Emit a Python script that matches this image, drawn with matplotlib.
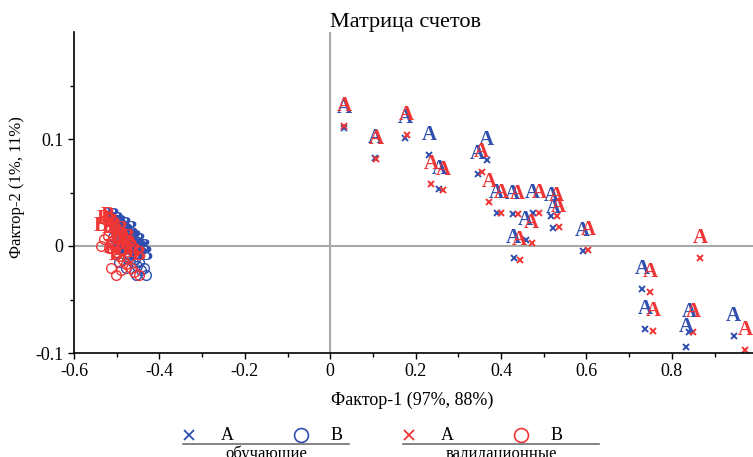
import matplotlib
matplotlib.use("Agg")
import matplotlib.pyplot as plt
from matplotlib.lines import Line2D

plt.rcParams['font.family'] = ['Liberation Serif', 'DejaVu Serif']

BLUE = "#2f4fb0"
RED = "#f03535"
GRAY = "#a8a8a8"

# class A, training set (blue)
a_train_x = [0.033, 0.105, 0.175, 0.232, 0.255, 0.366, 0.345, 0.390, 0.427, 0.474,
             0.518, 0.522, 0.458, 0.430, 0.591, 0.730, 0.738, 0.840, 0.833, 0.945]
a_train_y = [0.110, 0.082, 0.101, 0.085, 0.053, 0.080, 0.067, 0.031, 0.030, 0.031,
             0.028, 0.017, 0.006, -0.011, -0.005, -0.040, -0.078, -0.080, -0.094, -0.084]

# class A, validation set (red)
a_valid_x = [0.033, 0.107, 0.179, 0.236, 0.265, 0.355, 0.372, 0.401, 0.439, 0.490,
             0.530, 0.535, 0.472, 0.444, 0.604, 0.867, 0.749, 0.756, 0.850, 0.971]
a_valid_y = [0.112, 0.081, 0.104, 0.058, 0.052, 0.069, 0.041, 0.031, 0.030, 0.031,
             0.028, 0.018, 0.003, -0.013, -0.004, -0.011, -0.043, -0.079, -0.080, -0.097]

# class B, training set (blue)
b_train_x = [-0.509, -0.500, -0.493, -0.488, -0.481, -0.476, -0.472, -0.467, -0.462, -0.457,
             -0.453, -0.448, -0.443, -0.436, -0.432, -0.479, -0.495, -0.455]
b_train_y = [0.008, 0.005, 0.002, -0.003, 0.0, -0.007, -0.010, -0.004, -0.015, -0.012,
             -0.019, -0.015, -0.022, -0.021, -0.027, -0.021, -0.015, -0.027]

# class B, validation set (red)
b_valid_x = [-0.530, -0.521, -0.514, -0.507, -0.519, -0.502, -0.495, -0.491, -0.486, -0.479,
             -0.474, -0.467, -0.460, -0.448, -0.502, -0.514, -0.491, -0.537]
b_valid_y = [0.007, 0.009, 0.004, 0.0, -0.002, -0.006, -0.009, -0.004, -0.013, -0.017,
             -0.011, -0.021, -0.024, -0.027, -0.027, -0.021, -0.022, 0.0]

x_ticks = [-0.6, -0.4, -0.2, 0, 0.2, 0.4, 0.6, 0.8]
x_ticklabels = ["-0.6", "-0.4", "-0.2", "0", "0.2", "0.4", "0.6", "0.8"]
y_ticks = [-0.1, 0, 0.1]
y_ticklabels = ["-0.1", "0", "0.1"]

fig = plt.figure(figsize=(7.53, 4.57), dpi=100)
ax = fig.add_axes([74 / 753, 1 - 353 / 457, 1 - 74 / 753, 321 / 457])

ax.axhline(0, color=GRAY, lw=1.5, zorder=0)
ax.axvline(0, color=GRAY, lw=1.5, zorder=0)


def draw_group(xs, ys, marker, color, label):
    if marker == "x":
        ax.plot(xs, ys, ls="none", marker="x", ms=4.5, mew=1.4, color=color)
    else:
        ax.plot(xs, ys, ls="none", marker="o", ms=7, mew=1.0, mfc="none", mec=color)
    for x, y in zip(xs, ys):
        ax.annotate(label, (x, y), xytext=(0, 20), textcoords="offset pixels",
                    ha="center", va="center", color=color, fontsize=15, fontweight="bold",
                    annotation_clip=False)


draw_group(a_train_x, a_train_y, "x", BLUE, "A")
draw_group(a_valid_x, a_valid_y, "x", RED, "A")
draw_group(b_train_x, b_train_y, "o", BLUE, "B")
draw_group(b_valid_x, b_valid_y, "o", RED, "B")

ax.set_xlim(-0.6, 0.99)
ax.set_ylim(-0.1, 0.2)
ax.set_xticks(x_ticks)
ax.set_xticklabels(x_ticklabels)
ax.set_xticks([-0.5, -0.3, -0.1, 0.1, 0.3, 0.5, 0.7, 0.9], minor=True)
ax.set_yticks(y_ticks)
ax.set_yticklabels(y_ticklabels)
ax.set_yticks([-0.05, 0.05, 0.15], minor=True)
ax.tick_params(which="both", direction="out", length=4, width=1.0, labelsize=13)
ax.tick_params(which="minor", length=3)
for side in ["top", "right"]:
    ax.spines[side].set_visible(False)
for side in ["left", "bottom"]:
    ax.spines[side].set_linewidth(1.2)

ax.set_xlabel("Фактор-1 (97%, 88%)", fontsize=13)
ax.xaxis.set_label_coords(0.498, -0.121)
ax.set_ylabel("Фактор-2 (1%, 11%)", fontsize=12)
ax.yaxis.set_label_coords(-0.072, 0.517)

fig.text(405.5 / 753, 1 - 22 / 457, "Матрица счетов", ha="center", va="center", fontsize=16)

# legend below the plot
W, H = 753, 457


def legend_group(x0, x1, color, title):
    ly = 1 - 435 / H
    fig.add_artist(Line2D([(x0 + 6) / W], [ly], marker="x", ms=6.5, mew=1.3, color=color, ls="none"))
    fig.text((x0 + 44) / W, ly, "A", ha="center", va="center", fontsize=13)
    fig.add_artist(Line2D([(x0 + 118) / W], [ly], marker="o", ms=10, mew=1.2, mfc="none",
                          mec=color, ls="none"))
    fig.text((x0 + 154) / W, ly, "B", ha="center", va="center", fontsize=13)
    fig.add_artist(Line2D([x0 / W, x1 / W], [1 - 444 / H, 1 - 444 / H], color="#707070", lw=1.2))
    fig.text((x0 + x1) / 2 / W, 1 - 446 / H, title, ha="center", va="top", fontsize=12)


legend_group(183, 349, BLUE, "обучающие")
legend_group(403, 599, RED, "валидационные")

fig.savefig("out.png", dpi=100)
